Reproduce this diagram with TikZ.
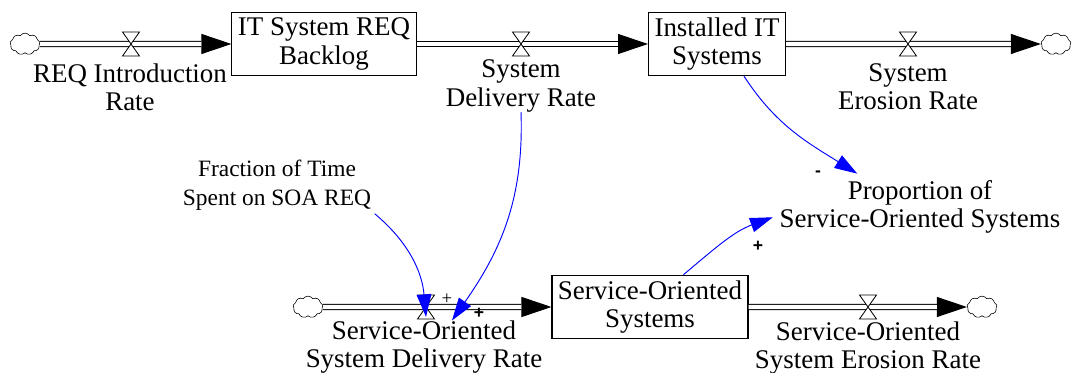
\documentclass[tikz,border=0pt]{standalone}
\usepackage{fontspec}
\setmainfont{Liberation Serif}
\setsansfont{Liberation Sans}
\usetikzlibrary{arrows.meta,shapes.symbols}

\begin{document}
\begin{tikzpicture}[x=0.3mm,y=-0.3mm,
    stock/.style={draw,line width=0.9pt,align=center,inner xsep=1.8mm,minimum height=1.9cm,font=\stockfontsize},
    rate/.style={align=center,inner sep=0pt,font=\stockfontsize},
    aux/.style={align=center,inner sep=1mm,font=\auxfontsize},
    source/.style={cloud,cloud puffs=9,cloud puff arc=110,aspect=1.5,draw,line width=0.5pt,minimum width=9mm,minimum height=6.5mm,inner sep=0pt},
    pipetip/.style={line width=0.9pt,-{Triangle[length=9mm,width=6mm]}},
    pipe/.style={line width=0.9pt,double,double distance=1.3mm,shorten >=9mm},
    valve/.style={draw,fill=white,line width=0.7pt},
    link/.style={blue,line width=0.8pt,-{Triangle[length=6.8mm,width=4.4mm]}},
    sign/.style={inner sep=0pt,font=\signfontsize\sffamily\bfseries},
    thinsign/.style={inner sep=0pt,font=\thinsignfontsize}]
    \pgfmathsetmacro{\valvehalfwidth}{8.5}
    \pgfmathsetmacro{\valvehalfheight}{12}
    \providecommand{\stockfontsize}{\fontsize{23}{24}\selectfont}
    \providecommand{\auxfontsize}{\fontsize{20}{24.5}\selectfont}
    \providecommand{\signfontsize}{\fontsize{15}{15}\selectfont}
    \providecommand{\thinsignfontsize}{\fontsize{16}{16}\selectfont}
    \providecommand{\drawvalve}[1]{\draw[valve] (#1) ++(-\valvehalfwidth,-\valvehalfheight) -- ++(2*\valvehalfwidth,0) -- (#1) -- ++(\valvehalfwidth,\valvehalfheight) -- ++(-2*\valvehalfwidth,0) -- (#1) -- cycle;}
    \useasboundingbox (0,0) rectangle (1075,373);
    % stocks and clouds
    \node[source] (srcIntro) at (25,44) {};
    \node[stock] (backlog) at (324,44) {IT System REQ\\Backlog};
    \node[stock] (installed) at (717,44) {Installed IT\\Systems};
    \node[source] (sinkErosion) at (1056,44) {};
    \node[source] (srcSO) at (308,307) {};
    \node[stock] (soSystems) at (650,307) {Service-Oriented\\Systems};
    \node[source] (sinkSO) at (982,307) {};
    % valves
    \coordinate (vIntro) at (131,44);
    \coordinate (vDelivery) at (521,44);
    \coordinate (vErosion) at (908,44);
    \coordinate (vSODelivery) at (426,307);
    \coordinate (vSOErosion) at (868,307);
    % rates and auxiliaries
    \node[rate] (introRate) at (130,87) {REQ Introduction\\Rate};
    \node[rate] (deliveryRate) at (521,86) {System\\Delivery Rate};
    \node[rate] (erosionRate) at (908,87) {System\\Erosion Rate};
    \node[rate] (soDeliveryRate) at (424,347) {Service-Oriented\\System Delivery Rate};
    \node[rate] (soErosionRate) at (868,348) {Service-Oriented\\System Erosion Rate};
    \node[rate,inner sep=2mm] (proportion) at (920,207) {Proportion of\\Service-Oriented Systems};
    \node[aux] (fraction) at (277,185) {Fraction of Time\\Spent on SOA REQ};
    % flows
    \draw[pipetip] (srcIntro) -- (backlog);
    \draw[pipe] (srcIntro) -- (backlog);
    \draw[pipetip] (backlog) -- (installed);
    \draw[pipe] (backlog) -- (installed);
    \draw[pipetip] (installed) -- (sinkErosion);
    \draw[pipe] (installed) -- (sinkErosion);
    \draw[pipetip] (srcSO) -- (soSystems);
    \draw[pipe] (srcSO) -- (soSystems);
    \draw[pipetip] (soSystems) -- (sinkSO);
    \draw[pipe] (soSystems) -- (sinkSO);
    \drawvalve{vIntro}
    \drawvalve{vDelivery}
    \drawvalve{vErosion}
    \drawvalve{vSODelivery}
    \drawvalve{vSOErosion}
    % links
    \draw[link] (installed.-50) to[out=-57,in=148] (proportion.152);
    \draw[link] (soSystems.44) to[out=40,in=200] (proportion.184);
    \draw[link] (deliveryRate.south) to[out=-88,in=55] ([xshift=8.4mm]soDeliveryRate.north);
    \draw[link] (fraction.south east) to[out=-40,in=95] ([yshift=-3mm]vSODelivery);
    \node[sign] (signInstalled) at (818,174) {-};
    \node[sign] (signSOSystems) at (758,246) {+};
    \node[sign] (signDelivery) at (479,313) {+};
    \node[thinsign] (signFraction) at (447,299) {+};
\end{tikzpicture}
\end{document}
